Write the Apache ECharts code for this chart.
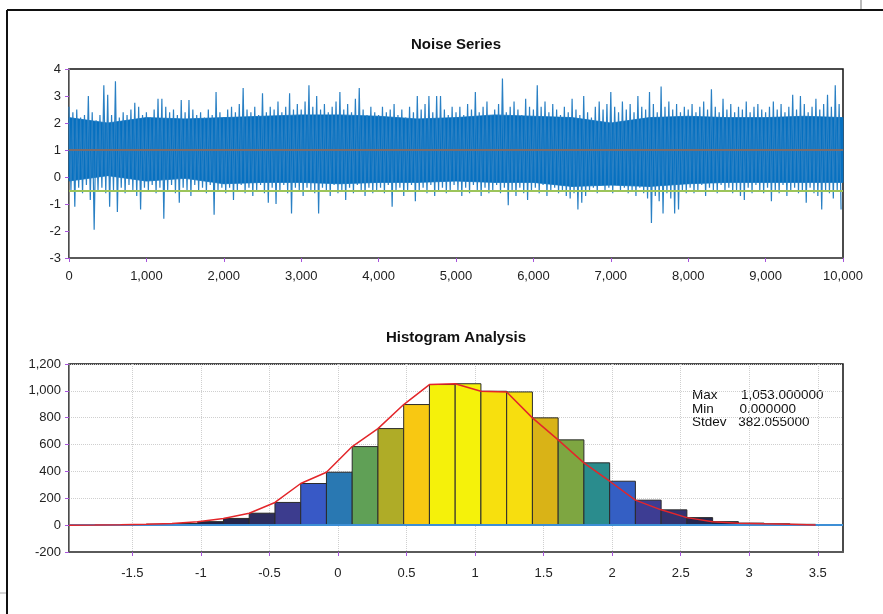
<!DOCTYPE html>
<html lang="en">
<head>
	<meta charset="UTF-8">
	<title>Noise Series / Histogram Analysis</title>
	<script src="https://cdn.jsdelivr.net/npm/echarts@6/dist/echarts.min.js"></script>
	<style>
		html,body{margin:0;padding:0;background:#fff;}
	</style>
</head>
<body>
	<div id="app" style="width: 883px;height:614px"></div>

	<script>
		// noise envelope: one high and one low value per 50 samples
		var noiseHigh=[
			2.6,2.4,2.5,2.2,2.3,3.0,2.4,2.1,2.3,3.4, 3.05,2.3,3.55,2.2,2.4,2.3,2.5,2.75,2.6,2.3,
			2.4,2.2,2.5,2.9,2.9,2.6,2.4,2.5,2.3,2.85, 2.4,2.85,2.5,2.3,2.4,2.2,2.5,2.3,3.15,2.4,
			2.2,2.5,2.6,2.4,2.7,3.3,2.5,2.4,2.6,2.3, 3.1,2.4,2.6,2.5,2.8,2.4,2.6,3.1,2.5,2.7,
			2.5,2.8,3.4,2.6,3.0,2.5,2.7,2.4,2.6,2.8, 3.15,2.5,2.7,2.4,2.9,3.3,2.5,2.3,2.6,2.4,
			2.3,2.6,2.4,2.5,2.7,2.3,2.5,2.2,2.6,2.4, 3.0,2.5,2.7,3.0,2.4,3.0,3.0,2.5,2.3,2.6,
			2.4,2.6,2.3,2.7,2.5,3.15,2.4,2.6,2.8,2.3, 2.5,2.7,3.65,2.4,2.6,2.8,2.5,2.3,2.9,2.6,
			2.5,3.4,2.6,2.8,2.4,2.7,2.5,2.3,2.6,2.4, 2.9,2.5,2.3,3.0,2.4,2.2,2.6,2.8,2.5,2.7,
			3.15,2.6,2.4,2.8,2.5,2.7,2.4,3.0,2.6,2.5, 3.15,2.7,2.4,3.35,2.6,2.8,2.5,2.7,2.4,2.6,
			2.5,2.7,2.4,2.6,2.8,2.5,3.25,2.6,2.4,2.9, 2.5,2.7,2.4,2.6,2.5,2.8,2.4,2.6,2.7,2.5,
			2.4,2.6,2.8,2.5,2.7,2.4,2.6,3.05,2.5,3.0, 2.7,2.4,2.6,2.9,2.5,2.7,3.05,2.6,3.4,2.7
		];
		var noiseLow=[
			-0.5,-1.1,-0.4,-0.6,-0.3,-0.85,-1.95,-0.5,-0.4,-0.6, -1.1,-0.5,-1.3,-0.4,-0.6,-0.3,-0.5,-0.7,-1.2,-0.4,
			-0.5,-0.3,-0.6,-0.4,-1.55,-0.5,-0.3,-0.6,-0.95,-0.4, -0.5,-0.7,-0.3,-0.5,-0.4,-0.6,-0.3,-1.4,-0.5,-0.4,
			-0.6,-0.4,-0.85,-0.5,-0.3,-0.6,-0.4,-0.7,-0.5,-0.3, -0.6,-0.95,-0.4,-1.0,-0.5,-0.3,-0.6,-1.35,-0.4,-0.5,
			-0.7,-0.4,-0.5,-0.6,-1.35,-0.4,-0.5,-0.7,-0.3,-0.6, -0.5,-0.85,-0.4,-0.6,-0.3,-0.5,-0.7,-0.4,-0.6,-0.5,
			-0.4,-0.6,-0.3,-1.1,-0.5,-0.4,-0.7,-0.5,-0.3,-0.9, -0.5,-0.4,-0.6,-0.3,-0.7,-0.5,-0.4,-0.6,-0.5,-0.3,
			-0.5,-0.7,-0.4,-0.6,-0.3,-0.5,-0.7,-0.4,-0.6,-0.5, -0.3,-0.6,-0.4,-1.05,-0.5,-0.7,-0.4,-0.6,-0.85,-0.5,
			-0.4,-0.6,-0.3,-0.7,-0.5,-0.4,-0.6,-0.5,-0.7,-0.8, -0.6,-1.2,-0.95,-0.7,-0.5,-0.4,-0.6,-0.3,-0.5,-0.4,
			-0.6,-0.3,-0.5,-0.4,-0.6,-0.5,-0.7,-0.4,-0.6,-0.8, -1.7,-0.7,-0.9,-1.35,-0.6,-0.8,-1.35,-1.2,-0.5,-0.6,
			-0.4,-0.6,-0.5,-0.3,-0.7,-0.4,-0.5,-0.6,-0.3,-0.5, -0.4,-0.6,-0.5,-0.7,-0.85,-0.4,-0.6,-0.3,-0.5,-0.6,
			-0.4,-0.9,-0.5,-0.6,-0.3,-0.7,-0.5,-0.4,-0.6,-0.5, -0.95,-0.4,-0.6,-0.7,-1.2,-0.5,-0.6,-0.8,-0.5,-1.2
		];
		var noiseStep=50;
		// dense core of the noise band, one value per 500 samples
		var coreHigh=[2.2,2.0,2.2,2.15,2.2,2.25,2.3,2.3,2.25,2.15,2.2,2.3,2.25,2.2,2.0,2.2,2.25,2.2,2.2,2.25,2.2];
		var coreLow=[-0.15,0.05,-0.15,-0.05,-0.25,-0.2,-0.2,-0.25,-0.2,-0.2,-0.15,-0.2,-0.2,-0.35,-0.3,-0.35,-0.25,-0.2,-0.2,-0.2,-0.2];
		var coreStep=500;
		var meanLevel=1;
		var lowerLevel=-0.5;

		// histogram: 30 bins
		var binStart=-1.962;
		var binWidth=0.1878;
		var binCounts=[
			0,1,3,7,12,26,50,89,169,310,
			394,585,719,898,1047,1053,997,992,799,635,
			464,327,186,114,56,26,15,10,6,1
		];
		var histTicks=[-1.5,-1,-0.5,0,0.5,1,1.5,2,2.5,3,3.5];
		var stats=[["Max","1,053.000000"],["Min","0.000000"],["Stdev","382.055000"]];

		var noisePoints=[];
		for(var i=0;i<noiseHigh.length;i++){
			noisePoints.push([i*noiseStep,noiseHigh[i]]);
			noisePoints.push([i*noiseStep+noiseStep/2,noiseLow[i]]);
		}
		var coreData=coreHigh.map(function(v,k){return [k*coreStep,coreLow[k],v];});
		var histData=binCounts.map(function(c,k){return [binStart+k*binWidth,c];});

		var font='"Liberation Sans", Arial, sans-serif';
		var tickColor='#a855dc';
		var labelStyle={color:'#222',fontSize:13,fontFamily:font};

		var statsText=[];
		stats.forEach(function(s,k){
			statsText.push({type:'text',x:692,y:395+k*13.8,style:{text:s[0],font:'13.5px '+font,fill:'#111',textVerticalAlign:'middle'}});
			statsText.push({type:'text',x:741-k*1.4,y:395+k*13.8,style:{text:s[1],font:'13.5px '+font,fill:'#111',textVerticalAlign:'middle'}});
		});

		var myChart=echarts.init(document.getElementById('app'));
		var option={
			animation:false,
			backgroundColor:'#fff',
			graphic:[
				{type:'line',shape:{x1:7,y1:10,x2:883,y2:10},style:{stroke:'#111',lineWidth:2}},
				{type:'line',shape:{x1:7,y1:10,x2:7,y2:614},style:{stroke:'#111',lineWidth:2}},
				{type:'line',shape:{x1:861,y1:0,x2:861,y2:9},style:{stroke:'#bbb',lineWidth:2}},
				{type:'line',shape:{x1:0,y1:593,x2:6,y2:593},style:{stroke:'#aaa',lineWidth:1}},
				{type:'text',x:456,y:45,style:{text:'Noise Series',font:'bold 15px '+font,fill:'#111',textAlign:'center',textVerticalAlign:'middle'}},
				{type:'text',x:456,y:338,style:{text:'Histogram Analysis',font:'bold 15px '+font,fill:'#111',textAlign:'center',textVerticalAlign:'middle'}}
			].concat(statsText),
			grid:[
				{left:69,right:40,top:69,height:189,show:true,borderColor:'#111',borderWidth:1.5,backgroundColor:'#fff'},
				{left:69,right:40,top:364,height:188,show:true,borderColor:'#111',borderWidth:1.5,backgroundColor:'#fff'}
			],
			xAxis:[
				{
					gridIndex:0,type:'value',min:0,max:10000,interval:1000,
					axisLine:{onZero:false,lineStyle:{color:'#5a5a5a',width:2}},
					axisTick:{show:true,length:4,lineStyle:{color:tickColor}},
					axisLabel:Object.assign({margin:12,formatter:function(v){return v.toLocaleString('en-US');}},labelStyle),
					splitLine:{show:false}
				},
				{
					gridIndex:1,type:'value',min:binStart,max:3.684,
					axisLine:{onZero:false,lineStyle:{color:'#5a5a5a',width:2}},
					axisTick:{show:true,length:4,lineStyle:{color:tickColor},customValues:histTicks},
					axisLabel:Object.assign({margin:15,customValues:histTicks,formatter:function(v){return String(v);}},labelStyle),
					splitLine:{show:true,lineStyle:{color:'#cfcfcf',type:'dotted'}}
				}
			],
			yAxis:[
				{
					gridIndex:0,type:'value',min:-3,max:4,interval:1,
					axisLine:{show:true,onZero:false,lineStyle:{color:'#888',width:1}},
					axisTick:{show:true,length:4,lineStyle:{color:tickColor}},
					axisLabel:Object.assign({margin:8},labelStyle),
					splitLine:{show:false}
				},
				{
					gridIndex:1,type:'value',min:-200,max:1200,interval:200,
					axisLine:{show:true,onZero:false,lineStyle:{color:'#888',width:1}},
					axisTick:{show:true,length:4,lineStyle:{color:tickColor}},
					axisLabel:Object.assign({margin:8,formatter:function(v){return v.toLocaleString('en-US');}},labelStyle),
					splitLine:{show:true,lineStyle:{color:'#cfcfcf',type:'dotted'}}
				}
			],
			visualMap:{
				show:false,type:'continuous',seriesIndex:2,dimension:1,min:0,max:1050,
				inRange:{color:['#1c1c38','#2a2a55','#3b3b88','#40409e','#3a55c8','#2a72bc','#258a94','#40966e','#68a250','#98aa30','#c0ae20','#e6b612','#f8c812','#f8d810','#f5f20a']}
			},
			series:[
				{
					name:'Core',type:'custom',xAxisIndex:0,yAxisIndex:0,silent:true,
					data:coreData,encode:{x:0,y:[1,2]},
					renderItem:function(params,api){
						var k=params.dataIndex;
						if(k>=coreData.length-1) return null;
						var nx=coreData[k+1];
						var pts=[
							api.coord([api.value(0),api.value(2)]),
							api.coord([nx[0],nx[2]]),
							api.coord([nx[0],nx[1]]),
							api.coord([api.value(0),api.value(1)])
						];
						return {type:'polygon',shape:{points:pts},style:{fill:'#0670c0',stroke:'#0670c0',lineWidth:0.8}};
					}
				},
				{
					name:'Noise',type:'line',xAxisIndex:0,yAxisIndex:0,
					data:noisePoints,showSymbol:false,symbol:'none',
					lineStyle:{color:'#2a80c4',width:1.2},
					markLine:{
						silent:true,symbol:'none',label:{show:false},
						data:[
							{yAxis:meanLevel,lineStyle:{color:'#7a6c6c',width:2,type:'solid'}},
							{yAxis:lowerLevel,lineStyle:{color:'#9cc45a',width:2,type:'solid'}}
						]
					}
				},
				{
					name:'Bins',type:'custom',xAxisIndex:1,yAxisIndex:1,
					data:histData,encode:{x:0,y:1},
					renderItem:function(params,api){
						var p0=api.coord([api.value(0),api.value(1)]);
						var p1=api.coord([api.value(0)+binWidth,0]);
						return {
							type:'rect',
							shape:{x:p0[0],y:p0[1],width:p1[0]-p0[0],height:p1[1]-p0[1]},
							style:{fill:api.visual('color'),stroke:'#2b2b2b',lineWidth:1}
						};
					}
				},
				{
					name:'Count',type:'line',xAxisIndex:1,yAxisIndex:1,
					data:histData,showSymbol:false,symbol:'none',z:5,
					lineStyle:{color:'#e3262a',width:1.5},
					markLine:{
						silent:true,symbol:'none',label:{show:false},
						data:[{yAxis:0,lineStyle:{color:'#3d8fd6',width:2,type:'solid'}}]
					}
				}
			]
		};
		myChart.setOption(option);
	</script>
</body>
</html>
